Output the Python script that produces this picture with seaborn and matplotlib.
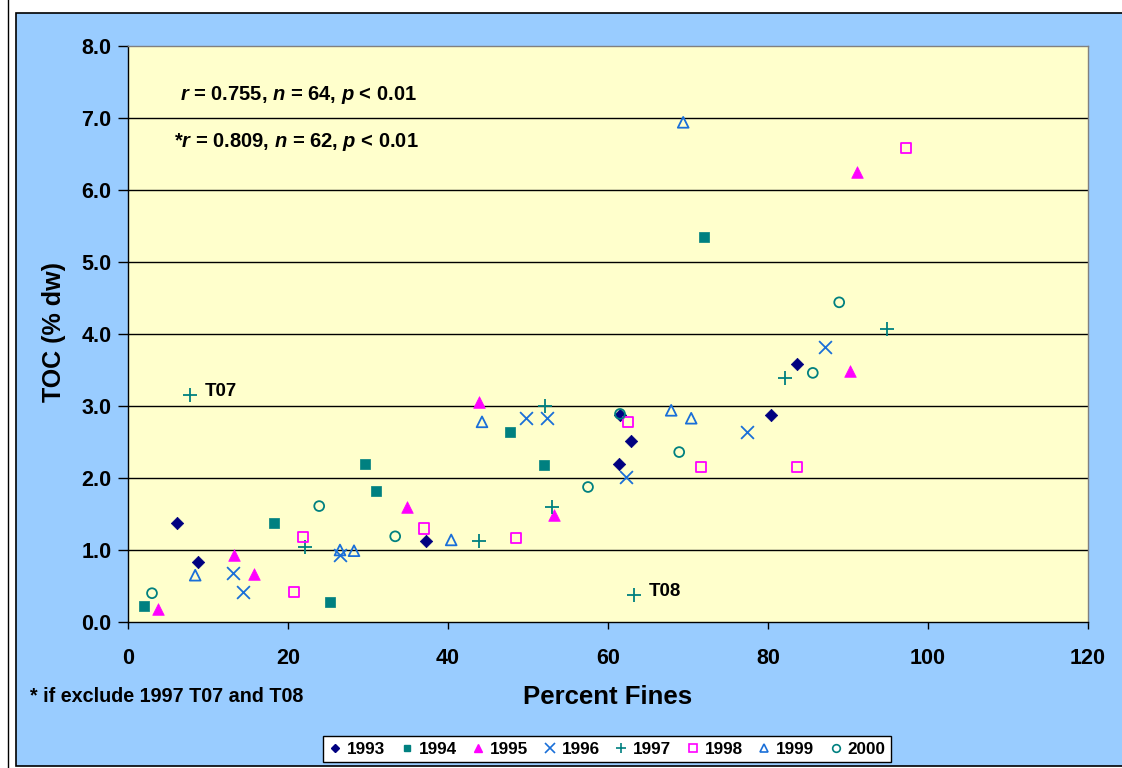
import matplotlib
matplotlib.use("Agg")
import matplotlib.pyplot as plt
from matplotlib.lines import Line2D
from matplotlib.patches import Rectangle
import seaborn as sns
import pandas as pd

plt.rcParams["font.family"] = ["Liberation Sans", "DejaVu Sans"]
plt.rcParams["mathtext.fontset"] = "custom"
plt.rcParams["mathtext.it"] = "Liberation Sans:italic:bold"
plt.rcParams["mathtext.rm"] = "Liberation Sans:bold"
plt.rcParams["mathtext.bf"] = "Liberation Sans:bold"

# Percent fines (x) and TOC % dw (y) by sampling year
x1993 = [6.1, 8.75, 37.25, 61.5, 62.9, 61.4, 80.4, 83.6]
y1993 = [1.375, 0.83, 1.125, 2.875, 2.51, 2.19, 2.875, 3.58]
x1994 = [2.0, 25.25, 18.25, 29.6, 31.0, 47.75, 52.0, 72.0]
y1994 = [0.22, 0.28, 1.375, 2.19, 1.82, 2.64, 2.18, 5.35]
x1995 = [3.75, 13.25, 15.75, 34.9, 43.9, 53.25, 90.25, 91.1]
y1995 = [0.18, 0.93, 0.67, 1.6, 3.06, 1.49, 3.49, 6.25]
x1996 = [13.1, 14.4, 26.5, 49.75, 52.4, 62.25, 77.4, 87.1]
y1996 = [0.68, 0.42, 0.93, 2.83, 2.83, 2.01, 2.64, 3.82]
x1997 = [7.75, 22.1, 43.9, 52.1, 53.0, 63.25, 82.1, 94.9]
y1997 = [3.15, 1.04, 1.125, 3.0, 1.6, 0.375, 3.39, 4.07]
x1998 = [20.75, 21.9, 37.0, 48.5, 62.5, 71.6, 83.6, 97.25]
y1998 = [0.42, 1.18, 1.3, 1.17, 2.78, 2.15, 2.15, 6.58]
x1999 = [8.4, 26.5, 28.25, 40.4, 44.25, 67.9, 70.4, 69.4]
y1999 = [0.65, 1.0, 0.99, 1.14, 2.78, 2.94, 2.83, 6.94]
x2000 = [3.0, 23.9, 33.4, 57.5, 61.5, 68.9, 85.6, 88.9]
y2000 = [0.40, 1.61, 1.19, 1.875, 2.89, 2.36, 3.46, 4.44]

years = ["1993", "1994", "1995", "1996", "1997", "1998", "1999", "2000"]
xs = [x1993, x1994, x1995, x1996, x1997, x1998, x1999, x2000]
ys = [y1993, y1994, y1995, y1996, y1997, y1998, y1999, y2000]

x_ticks = [0, 20, 40, 60, 80, 100, 120]
y_ticks = [0.0, 1.0, 2.0, 3.0, 4.0, 5.0, 6.0, 7.0, 8.0]

stats_all = "$r$ = 0.755, $n$ = 64, $p$ < 0.01"
stats_excl = "*$r$ = 0.809, $n$ = 62, $p$ < 0.01"
footnote = "* if exclude 1997 T07 and T08"
outliers = [("T07", 7.75, 3.15), ("T08", 63.25, 0.375)]

navy, teal, magenta, blue = "#000080", "#008080", "#FF00FF", "#1A6FD8"
styles = {
    "1993": dict(marker="D", color=navy, filled=True, s=40),
    "1994": dict(marker="s", color=teal, filled=True, s=55),
    "1995": dict(marker="^", color=magenta, filled=True, s=70),
    "1996": dict(marker="x", color=blue, filled=None, s=85),
    "1997": dict(marker="+", color=teal, filled=None, s=90),
    "1998": dict(marker="s", color=magenta, filled=False, s=55),
    "1999": dict(marker="^", color=blue, filled=False, s=60),
    "2000": dict(marker="o", color=teal, filled=False, s=50),
}

W, H = 1122, 768
fig = plt.figure(figsize=(W / 100, H / 100), dpi=100, facecolor="white")

# double frame and blue chart area
fig.patches.append(Rectangle((8 / W, 1 - 770 / H), 1.2, 770 / H - 6 / H + 0.01,
                             transform=fig.transFigure, facecolor="white",
                             edgecolor="black", linewidth=1.0, zorder=-3))
fig.patches.append(Rectangle((16 / W, 1 - 766 / H), 1.2, (766 - 13) / H,
                             transform=fig.transFigure, facecolor="#99CCFF",
                             edgecolor="black", linewidth=1.2, zorder=-2))

ax = fig.add_axes([128 / W, 1 - 622 / H, (1088 - 128) / W, (622 - 46) / H])
ax.set_facecolor("#FFFFCC")

for yr, xv, yv in zip(years, xs, ys):
    st = styles[yr]
    df = pd.DataFrame({"fines": xv, "toc": yv})
    if st["filled"] is True:
        sns.scatterplot(data=df, x="fines", y="toc", ax=ax, marker=st["marker"],
                        s=st["s"], color=st["color"], edgecolor=st["color"],
                        linewidth=0.5, zorder=3)
    elif st["filled"] is False:
        sns.scatterplot(data=df, x="fines", y="toc", ax=ax, marker=st["marker"],
                        s=st["s"], facecolor="none", edgecolor=st["color"],
                        linewidth=1.3, zorder=3)
    else:
        sns.scatterplot(data=df, x="fines", y="toc", ax=ax, marker=st["marker"],
                        s=st["s"], color=st["color"], linewidth=1.3, zorder=3)

ax.set_xlim(0, 120)
ax.set_ylim(0, 8)
ax.set_xticks(x_ticks)
ax.set_yticks(y_ticks)
ax.set_xticklabels([str(t) for t in x_ticks])
ax.set_yticklabels([f"{t:.1f}" for t in y_ticks])
for lab in ax.get_xticklabels() + ax.get_yticklabels():
    lab.set_fontweight("bold")
    lab.set_fontsize(15.5)
ax.tick_params(axis="y", direction="out", length=7, width=1, pad=5, colors="black")
ax.tick_params(axis="x", direction="out", length=5, width=1, pad=14, colors="black")

for yv in y_ticks[1:-1]:
    ax.axhline(yv, color="black", linewidth=1.0, zorder=1)
for side in ("top", "right"):
    ax.spines[side].set_color("#808080")
    ax.spines[side].set_linewidth(1.0)
for side in ("left", "bottom"):
    ax.spines[side].set_color("black")
    ax.spines[side].set_linewidth(1.0)

ax.set_xlabel("")
ax.set_ylabel("")
fig.text(608 / W, 1 - 697 / H, "Percent Fines", ha="center", va="center",
         fontsize=18.5, fontweight="bold")
fig.text(54 / W, 1 - 332 / H, "TOC (% dw)", ha="center", va="center",
         rotation=90, fontsize=18, fontweight="bold")
fig.text(30 / W, 1 - 697 / H, footnote, ha="left", va="center",
         fontsize=14.2, fontweight="bold")

ax.text(6.5, 7.32, stats_all, ha="left", va="center", fontsize=14.5, fontweight="bold")
ax.text(5.7, 6.67, stats_excl, ha="left", va="center", fontsize=14.5, fontweight="bold")
for name, xv, yv in outliers:
    ax.text(xv + 1.9, yv + 0.05, name, ha="left", va="center", fontsize=13.5,
            fontweight="bold")

handles = []
for yr in years:
    st = styles[yr]
    if st["filled"] is True:
        h = Line2D([], [], linestyle="none", marker=st["marker"], color=st["color"],
                   markersize=6 if st["marker"] == "^" else 5 if st["marker"] == "s" else 4.5)
    elif st["filled"] is False:
        h = Line2D([], [], linestyle="none", marker=st["marker"], markersize=5.5,
                   markerfacecolor="none", markeredgecolor=st["color"],
                   markeredgewidth=1.2)
    else:
        h = Line2D([], [], linestyle="none", marker=st["marker"], color=st["color"],
                   markersize=7, markeredgewidth=1.2)
    handles.append(h)

leg = fig.legend(handles, years, loc="center", bbox_to_anchor=(607 / W, 1 - 749 / H),
                 ncol=8, frameon=True, fancybox=False, edgecolor="black",
                 facecolor="white", framealpha=1, handlelength=0.8,
                 handletextpad=0.3, columnspacing=0.85, borderpad=0.3,
                 prop={"weight": "bold", "size": 12.3})
leg.get_frame().set_linewidth(1.0)

fig.savefig("out.png", dpi=100, facecolor=fig.get_facecolor())
